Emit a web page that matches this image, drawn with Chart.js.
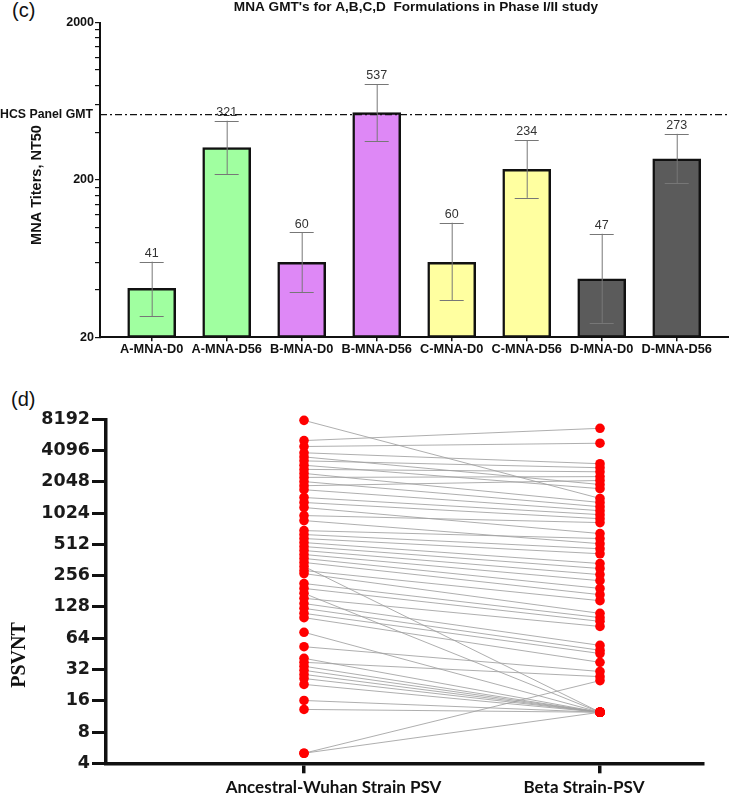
<!DOCTYPE html>
<html>
<head>
<meta charset="utf-8">
<script src="https://cdn.jsdelivr.net/npm/chart.js@4/dist/chart.umd.min.js"></script>
<style>
html, body { margin:0; padding:0; background:#fff; width:729px; height:809px; overflow:hidden; }
#c1 { position:absolute; left:0; top:0; }
#c2 { position:absolute; left:0; top:370px; }
.plabel { position:absolute; font-family:"Liberation Sans", Arial, sans-serif; font-size:20px; line-height:20px; color:#111; }
</style>
</head>
<body>
<div class="plabel" style="left:12px; top:0px;">(c)</div>
<div class="plabel" style="left:11px; top:389px;">(d)</div>
<canvas id="c1" width="729" height="370"></canvas>
<canvas id="c2" width="729" height="439"></canvas>
<script>
// ---------- Panel (c) data ----------
const categories = ['A-MNA-D0','A-MNA-D56','B-MNA-D0','B-MNA-D56','C-MNA-D0','C-MNA-D56','D-MNA-D0','D-MNA-D56'];
const gmtValues  = [41, 321, 60, 537, 60, 234, 47, 273];
const ciUpper    = [60.5, 476, 93, 815, 107, 359, 91, 393];
const ciLower    = [27.2, 217, 38.6, 354, 34.4, 154, 24.7, 191];
const hcsPanelGMT = 520;
const yTicksC = [20,40,60,80,100,120,140,160,180,200,400,600,800,1000,1200,1400,1600,1800,2000];
const yLabelsC = [20, 200, 2000];
const titleC = "MNA GMT's for A,B,C,D  Formulations in Phase I/II study";

// ---------- Panel (d) data ----------
const strainLabels = ['Ancestral-Wuhan Strain PSV', 'Beta Strain-PSV'];
const ancestralPSVNT = [8000,5110,4480,3900,3560,3260,2960,2700,2470,2260,2060,1880,1720,1448,1296,1160,970,868,695,637,583,533,488,447,409,375,343,314,287,268,215,193,173,155,138,124,111,101,73,53,41,37.5,34.4,31.4,28.7,26.2,23,16.1,13.2,5,5];
const betaPSVNT      = [1418,6710,4820,3060,1930,2800,1760,2560,1296,2300,1180,2110,1080,990,905,651,830,520,583,465,416,335,300,262,229,193,168,12.4,147,111,101,93,12.4,83,54.6,49,45.6,37.5,12.4,30.6,12.4,27.3,12.4,12.4,12.4,12.4,12.4,12.4,12.4,12.4,25];
const psvTicks = [4,8,16,32,64,128,256,512,1024,2048,4096,8192];

// ---------- styles ----------
const barColors = ['#a0ffa0','#a0ffa0','#de88f6','#de88f6','#ffffa0','#ffffa0','#5b5b5b','#5b5b5b'];
const SANS = '"Liberation Sans", Arial, sans-serif';

Chart.defaults.animation = false;

// ---------- Chart (c) ----------
const panelCPlugin = {
  id: 'panelC',
  afterDatasetsDraw(chart) {
    const ctx = chart.ctx, xs = chart.scales.x, ys = chart.scales.y, ca = chart.chartArea;
    ctx.save();
    for (let i = 0; i < categories.length; i++) {
      const x = xs.getPixelForValue(i);
      const yu = ys.getPixelForValue(ciUpper[i]);
      const yl = ys.getPixelForValue(ciLower[i]);
      ctx.strokeStyle = '#777';
      ctx.lineWidth = 1;
      ctx.beginPath();
      ctx.moveTo(x + 0.5, yu); ctx.lineTo(x + 0.5, yl);
      ctx.moveTo(x - 12, Math.round(yu) + 0.5); ctx.lineTo(x + 12, Math.round(yu) + 0.5);
      ctx.moveTo(x - 12, Math.round(yl) + 0.5); ctx.lineTo(x + 12, Math.round(yl) + 0.5);
      ctx.stroke();
      ctx.fillStyle = '#333';
      ctx.font = '12.5px ' + SANS;
      ctx.textAlign = 'center';
      ctx.textBaseline = 'bottom';
      ctx.fillText(String(gmtValues[i]), x, yu - 2);
    }
    const yh = ys.getPixelForValue(hcsPanelGMT);
    ctx.strokeStyle = '#111';
    ctx.lineWidth = 1.3;
    ctx.setLineDash([7, 3, 2, 3]);
    ctx.beginPath();
    ctx.moveTo(ca.left, yh); ctx.lineTo(ca.right, yh);
    ctx.stroke();
    ctx.setLineDash([]);
    ctx.fillStyle = '#111';
    ctx.font = 'bold 12.3px ' + SANS;
    ctx.textAlign = 'right';
    ctx.textBaseline = 'middle';
    ctx.fillText('HCS Panel GMT', 93, yh);
    ctx.textAlign = 'center';
    ctx.font = 'bold 13.6px ' + SANS;
    ctx.fillText(titleC, 416, 7);
    ctx.translate(37, 185);
    ctx.rotate(-Math.PI / 2);
    ctx.font = 'bold 14.5px ' + SANS;
    ctx.fillText('MNA Titers, NT50', 0, 0);
    ctx.restore();
  }
};

new Chart(document.getElementById('c1'), {
  type: 'bar',
  data: {
    datasets: [{
      data: gmtValues.map((v, i) => ({ x: i, y: v })),
      backgroundColor: barColors,
      borderColor: '#111',
      borderWidth: 2.5,
      borderSkipped: false,
      barThickness: 48
    }]
  },
  options: {
    responsive: false,
    animation: false,
    layout: { padding: { top: 22.7, right: 0, bottom: 2.7, left: 0 } },
    plugins: { legend: { display: false }, tooltip: { enabled: false }, title: { display: false } },
    scales: {
      x: {
        type: 'linear',
        min: -0.689, max: 7.697,
        offset: false,
        afterBuildTicks: s => { s.ticks = categories.map((c, i) => ({ value: i })); },
        afterFit: s => { s.height = 30; },
        ticks: {
          callback: (v) => categories[v],
          autoSkip: false, maxRotation: 0, minRotation: 0,
          font: { family: SANS, size: 12.8, weight: 'bold' },
          color: '#111', padding: 0
        },
        grid: { offset: false, drawOnChartArea: false, tickLength: 4, color: '#111', lineWidth: 1.5 },
        border: { display: true, color: '#111', width: 2 }
      },
      y: {
        type: 'logarithmic',
        min: 20, max: 2000,
        afterBuildTicks: s => { s.ticks = yTicksC.map(v => ({ value: v })); },
        afterFit: s => { s.width = 100; },
        ticks: {
          callback: (v) => yLabelsC.includes(v) ? String(v) : '',
          autoSkip: false,
          font: { family: SANS, size: 12.5, weight: 'bold' },
          color: '#111', padding: 1
        },
        grid: { drawOnChartArea: false, tickLength: 5, color: '#111', lineWidth: 1.2 },
        border: { display: true, color: '#111', width: 2 }
      }
    }
  },
  plugins: [panelCPlugin]
});

// ---------- Chart (d) ----------
const strainLabelShift = [29.5, -16];
const panelDPlugin = {
  id: 'panelD',
  afterDraw(chart) {
    const ctx = chart.ctx, xs = chart.scales.x;
    ctx.save();
    ctx.fillStyle = '#111';
    ctx.font = 'bold 17px Lato, "Open Sans", sans-serif';
    ctx.textAlign = 'center';
    ctx.textBaseline = 'middle';
    strainLabels.forEach((t, i) => {
      ctx.fillText(t, xs.getPixelForValue(i) + strainLabelShift[i], 418);
    });
    ctx.translate(20, 285);
    ctx.rotate(-Math.PI / 2);
    ctx.font = 'bold 20px "Liberation Serif", "Times New Roman", serif';
    ctx.fillText('PSVNT', 0, 0);
    ctx.restore();
  }
};

const lineSets = ancestralPSVNT.map((a, i) => ({
  data: [{ x: 0, y: a }, { x: 1, y: betaPSVNT[i] }],
  borderColor: 'rgba(160,160,160,0.85)',
  borderWidth: 1,
  pointRadius: 0,
  order: 1,
  clip: false
}));
const pointSet = {
  data: ancestralPSVNT.map(a => ({ x: 0, y: a })).concat(betaPSVNT.map(b => ({ x: 1, y: b }))),
  showLine: false,
  pointRadius: 4.8,
  pointBackgroundColor: '#ff0000',
  pointBorderWidth: 0,
  order: 0,
  clip: false
};

new Chart(document.getElementById('c2'), {
  type: 'line',
  data: { datasets: lineSets.concat([pointSet]) },
  options: {
    responsive: false,
    animation: false,
    layout: { padding: { top: 49.3, right: 26, bottom: 5.7, left: 0 } },
    plugins: { legend: { display: false }, tooltip: { enabled: false } },
    scales: {
      x: {
        type: 'linear',
        min: -0.669, max: 1.348,
        afterBuildTicks: s => { s.ticks = [{ value: 0 }, { value: 1 }]; },
        afterFit: s => { s.height = 40; },
        ticks: { display: false },
        grid: { drawOnChartArea: false, tickLength: 10, color: '#111', lineWidth: 3.5 },
        border: { display: true, color: '#111', width: 3.5 }
      },
      y: {
        type: 'logarithmic',
        min: 4, max: 8192,
        afterBuildTicks: s => { s.ticks = psvTicks.map(v => ({ value: v })); },
        afterFit: s => { s.width = 106; },
        ticks: {
          callback: (v) => String(v),
          autoSkip: false,
          font: { family: '"DejaVu Sans", sans-serif', size: 17.5, weight: 'bold' },
          color: '#1a1a1a', padding: 2
        },
        grid: { drawOnChartArea: false, tickLength: 14, color: '#111', lineWidth: 3 },
        border: { display: true, color: '#111', width: 3.5 }
      }
    }
  },
  plugins: [panelDPlugin]
});
</script>
</body>
</html>
